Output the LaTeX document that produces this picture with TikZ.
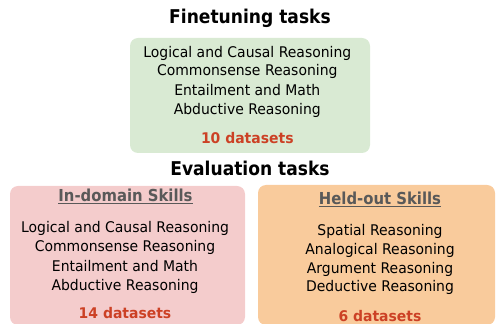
\documentclass[tikz,border=0pt]{standalone}
\usepackage{fontspec}
\setmainfont{DejaVu Sans}[FakeStretch=0.95]
\newfontfamily\titlefont{DejaVu Sans}[FakeStretch=0.9]
\definecolor{gfill}{HTML}{D9EAD3}
\definecolor{pfill}{HTML}{F4CCCC}
\definecolor{ofill}{HTML}{F9CB9C}
\definecolor{redtxt}{HTML}{CC4125}
\definecolor{graytxt}{HTML}{595959}
\tikzset{
  panel/.style={rounded corners=8pt, inner sep=0pt, draw=none},
  txt/.style={inner sep=0pt, text depth=0pt},
  title/.style={txt, text height=13.9pt, font=\titlefont\fontsize{19}{22}\selectfont\bfseries, text=black},
  item/.style={txt, text height=10.7pt, font=\fontsize{14.7}{17}\selectfont, text=black},
  count/.style={txt, text height=10.7pt, font=\fontsize{14.7}{17}\selectfont\bfseries, text=redtxt},
  head/.style={txt, text height=12pt, font=\titlefont\fontsize{16.5}{20}\selectfont\bfseries, text=graytxt},
}
\newcommand{\ulhead}[1]{\underline{#1}}
\begin{document}
\begin{tikzpicture}[x=1pt,y=1pt]
\useasboundingbox (0,0) rectangle (496,324);
% panels
\node[panel, fill=gfill, minimum width=240pt, minimum height=115pt] (green) at (250,228.5) {};
\node[panel, fill=pfill, minimum width=235pt, minimum height=139pt] (pink) at (127.5,68.5) {};
\node[panel, fill=ofill, minimum width=237pt, minimum height=140pt] (orange) at (376.5,69) {};
% titles
\node[title] (ft) at (250,307.3) {Finetuning tasks};
\node[title] (ev) at (250,155.5) {Evaluation tasks};
% green contents
\node[item] (g1) at (247.3,272) {Logical and Causal Reasoning};
\node[item] (g2) at (247.3,253.5) {Commonsense Reasoning};
\node[item] (g3) at (247.3,233.5) {Entailment and Math};
\node[item] (g4) at (247.3,214.5) {Abductive Reasoning};
\node[count] (g5) at (247.3,186) {10 datasets};
% pink contents
\node[head] (ph) at (125.5,128.2) {\ulhead{In-domain Skills}};
\node[item] (p1) at (125,97) {Logical and Causal Reasoning};
\node[item] (p2) at (125,77.7) {Commonsense Reasoning};
\node[item] (p3) at (125,57.7) {Entailment and Math};
\node[item] (p4) at (125,39.2) {Abductive Reasoning};
\node[count] (p5) at (125,11) {14 datasets};
% orange contents
\node[head] (oh) at (380,125.7) {\ulhead{Held-out Skills}};
\node[item] (o1) at (380,94.3) {Spatial Reasoning};
\node[item] (o2) at (380,75.3) {Analogical Reasoning};
\node[item] (o3) at (380,56) {Argument Reasoning};
\node[item] (o4) at (380,37.7) {Deductive Reasoning};
\node[count] (o5) at (380,8) {6 datasets};
\end{tikzpicture}
\end{document}
